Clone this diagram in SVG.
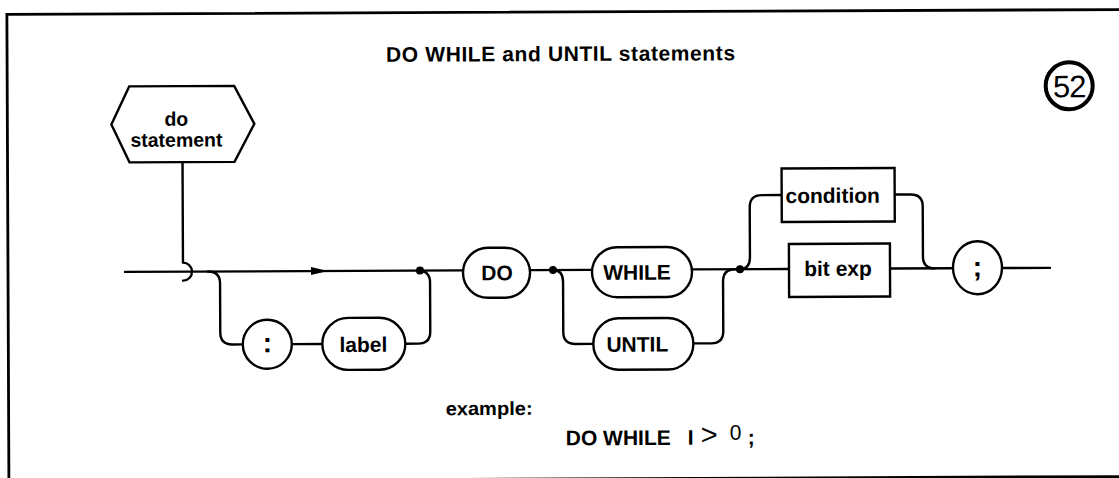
<svg xmlns="http://www.w3.org/2000/svg" width="1119" height="478" viewBox="0 0 1119 478">
<style>
.ln{fill:none;stroke:#000;stroke-width:2.4;stroke-linecap:round;stroke-linejoin:round}
.bx{fill:#fff;stroke:#000;stroke-width:2.4}
.t{font-family:"Liberation Sans",Arial,sans-serif;font-weight:bold;font-size:21px;fill:#000;text-anchor:middle}
.dot{fill:#000}
</style>
<rect width="1119" height="478" fill="#fff"/>
<g transform="rotate(-0.25 560 270)">
<rect id="frame" x="8" y="12" width="1200" height="467" fill="none" stroke="#000" stroke-width="2.8"/>
<text id="title" class="t" x="387" y="61" style="text-anchor:start" textLength="349" lengthAdjust="spacing">DO WHILE and UNTIL statements</text>
<g id="page-number">
<circle cx="1070" cy="88" r="23.5" fill="#fff" stroke="#000" stroke-width="4"/>
<text class="t" x="1070" y="99.5" style="font-size:31px;font-weight:normal;letter-spacing:-1px">52</text>
</g>
<g id="connectors">
<path class="ln" d="M183,160.5 L183,261 A9,9 0 0 1 183,279"/>
<path class="ln" d="M125,270 L463,270"/>
<path class="ln" d="M208,270 Q220,270 220,282 L220,331 Q220,343 232,343 L242.5,343"/>
<path class="ln" d="M291.5,343 L322,343"/>
<path class="ln" d="M405,343 L418,343 Q430,343 430,331 L430,282 Q430,270 418,270"/>
<path class="ln" d="M530,270 L592,270"/>
<path class="ln" d="M553,270 Q563,270 563,282 L563,332 Q563,344 575,344 L593,344"/>
<path class="ln" d="M692,270 L789,270"/>
<path class="ln" d="M693,344 L711,344 Q723,344 723,332 L723,282 Q723,270 735,270 L740,270"/>
<path class="ln" d="M740,270 Q750,270 750,258 L750,208 Q750,196 762,196 L782,196"/>
<path class="ln" d="M895,196 L911,196 Q923,196 923,208 L923,258 Q923,270 935,270"/>
<path class="ln" d="M890,270 L952.5,270"/>
<path class="ln" d="M1002.5,270 L1050,270"/>
<polygon class="dot" points="311,266 328,270 311,274"/>
<circle class="dot" cx="420" cy="270" r="4"/>
<circle class="dot" cx="553" cy="270" r="4"/>
<circle class="dot" cx="740" cy="270" r="4"/>
</g>
<g id="do-statement">
<polygon class="bx" points="130,84.5 235,84.5 255,122.5 235,160.5 130,160.5 112,122.5"/>
<text class="t" x="177" y="124" style="font-size:19.5px">do</text>
<text class="t" x="177" y="145" style="font-size:19.5px">statement</text>
</g>
<g id="colon">
<circle class="bx" cx="267" cy="343" r="24.5"/>
<text class="t" x="267" y="351" style="font-size:28px">:</text>
</g>
<g id="label">
<rect class="bx" x="322" y="317" width="83" height="52" rx="26"/>
<text class="t" x="363" y="351">label</text>
</g>
<g id="do">
<rect class="bx" x="463" y="247.5" width="67" height="50" rx="25"/>
<text class="t" x="497" y="280">DO</text>
</g>
<g id="while">
<rect class="bx" x="592" y="247.5" width="100" height="50" rx="25"/>
<text class="t" x="637" y="280">WHILE</text>
</g>
<g id="until">
<rect class="bx" x="593" y="318.5" width="100" height="51.5" rx="25.5"/>
<text class="t" x="637" y="352">UNTIL</text>
</g>
<g id="condition">
<rect class="bx" x="782" y="169.5" width="113" height="53.5"/>
<text class="t" x="833" y="204">condition</text>
</g>
<g id="bit-exp">
<rect class="bx" x="789" y="245" width="101" height="53"/>
<text class="t" x="838" y="277">bit exp</text>
</g>
<g id="semicolon">
<ellipse class="bx" cx="977.5" cy="269.5" rx="24.5" ry="26.5"/>
<text class="t" x="977.5" y="278" style="font-size:28px">;</text>
</g>
<g id="example">
<text class="t" x="445" y="414.7" style="text-anchor:start;font-size:19px" textLength="87" lengthAdjust="spacingAndGlyphs">example:</text>
<text class="t" style="text-anchor:start"><tspan x="565" y="445.4">DO WHILE</tspan><tspan x="687" y="445.4">I</tspan><tspan x="700" y="445" style="font-weight:normal;font-size:29px">&gt;</tspan><tspan x="729" y="440.4" style="font-weight:normal">0</tspan><tspan x="747" y="445.4">;</tspan></text>
</g>
</g>
</svg>
